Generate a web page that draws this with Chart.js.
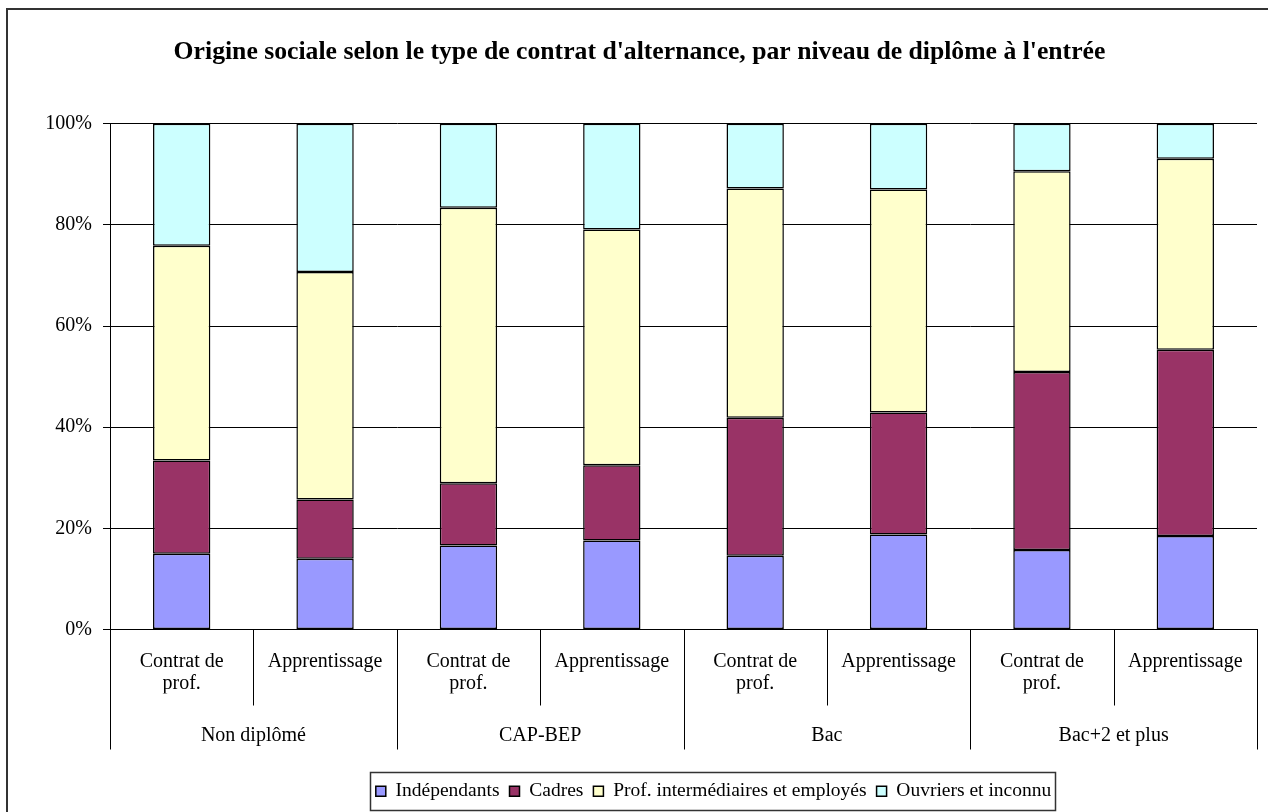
<!DOCTYPE html>
<html>
<head>
<meta charset="utf-8">
<script src="https://cdn.jsdelivr.net/npm/chart.js@4.4.0/dist/chart.umd.min.js"></script>
<style>
html,body{margin:0;padding:0;background:#fff;overflow:hidden}
canvas{display:block}
</style>
</head>
<body>
<canvas id="c" width="1268" height="812"></canvas>
<script>
const chartTitle = "Origine sociale selon le type de contrat d'alternance, par niveau de diplôme à l'entrée";
const groups = ["Non diplômé", "CAP-BEP", "Bac", "Bac+2 et plus"];
const contracts = [["Contrat de", "prof."], "Apprentissage"];
const yTicks = [0, 20, 40, 60, 80, 100];
const seriesNames = ["Indépendants", "Cadres", "Prof. intermédiaires et employés", "Ouvriers et inconnu"];
const independants = [15.0, 14.0, 16.6, 17.6, 14.6, 18.8, 15.7, 18.5];
const cadres       = [18.4, 11.7, 12.3, 14.9, 27.3, 24.1, 35.2, 36.8];
const profInter    = [42.5, 45.0, 54.5, 46.6, 45.3, 44.1, 39.7, 37.8];
const ouvriers     = [24.1, 29.3, 16.6, 20.9, 12.8, 13.0,  9.4,  6.9];
const seriesColors = ["#9999FF", "#993366", "#FFFFCC", "#CCFFFF"];

const categories = [];
groups.forEach(() => contracts.forEach(c => categories.push(c)));
const seriesValues = [independants, cadres, profInter, ouvriers];

const FONT = "'Liberation Serif', 'Times New Roman', serif";
const LEGEND_SHIFT = 74;

const deco = {
  id: 'deco',
  afterUpdate(chart) {
    const lg = chart.legend;
    if (lg) {
      lg.left += LEGEND_SHIFT;
      lg.right += LEGEND_SHIFT;
      if (typeof lg.adjustHitBoxes === 'function') lg.adjustHitBoxes();
    }
  },
  beforeDraw(chart) {
    const ctx = chart.ctx;
    ctx.save();
    ctx.fillStyle = '#fff';
    ctx.fillRect(0, 0, chart.width, chart.height);
    ctx.restore();
  },
  afterDraw(chart) {
    const ctx = chart.ctx;
    const xs = chart.scales.x;
    const bottom = chart.chartArea.bottom;
    ctx.save();
    ctx.strokeStyle = '#000';
    ctx.lineWidth = 1;
    for (let i = 0; i <= categories.length; i++) {
      const px = Math.round(xs.getPixelForValue(i - 0.5)) + 0.5;
      const len = (i % contracts.length === 0) ? 120 : 76;
      ctx.beginPath();
      ctx.moveTo(px, bottom);
      ctx.lineTo(px, bottom + len);
      ctx.stroke();
    }
    const lg = chart.legend;
    if (lg && lg.legendHitBoxes && lg.legendHitBoxes.length) {
      let l = Infinity, r = -Infinity;
      lg.legendHitBoxes.forEach(h => { l = Math.min(l, h.left); r = Math.max(r, h.left + h.width); });
      ctx.strokeStyle = '#333';
      ctx.lineWidth = 1.5;
      ctx.strokeRect(Math.round(l) - 5.5, Math.round(lg.top) + 0.5, Math.round(r - l) + 10, 38);
    }
    ctx.strokeStyle = '#333';
    ctx.lineWidth = 2;
    ctx.beginPath();
    ctx.moveTo(7, chart.height + 5);
    ctx.lineTo(7, 9);
    ctx.lineTo(chart.width + 5, 9);
    ctx.stroke();
    ctx.restore();
  }
};

new Chart(document.getElementById('c'), {
  type: 'bar',
  data: {
    labels: categories,
    datasets: seriesNames.map((name, i) => ({
      label: name,
      data: seriesValues[i],
      backgroundColor: seriesColors[i],
      borderColor: '#000',
      borderWidth: 1.5,
      borderSkipped: false,
      barPercentage: 0.4,
      categoryPercentage: 1.0
    }))
  },
  options: {
    responsive: false,
    animation: false,
    devicePixelRatio: 1,
    layout: { padding: { left: 22, right: 11, top: 0, bottom: 1 } },
    plugins: {
      title: {
        display: true,
        text: chartTitle,
        color: '#000',
        font: { family: FONT, size: 25.7, weight: 'bold', lineHeight: 1.2 },
        padding: { top: 37, bottom: 56 }
      },
      legend: {
        display: true,
        position: 'bottom',
        labels: {
          color: '#000',
          boxWidth: 10,
          boxHeight: 10,
          padding: 10,
          font: { family: FONT, size: 19.5 }
        }
      },
      tooltip: { enabled: false }
    },
    scales: {
      x: {
        stacked: true,
        offset: true,
        grid: { display: false, drawTicks: false },
        border: { display: true, color: '#000', width: 1 },
        ticks: {
          color: '#000',
          font: { family: FONT, size: 20, lineHeight: 1.1 },
          padding: 21,
          maxRotation: 0,
          autoSkip: false
        },
        afterFit(s) { s.height = 64; }
      },
      x2: {
        type: 'category',
        labels: groups,
        position: 'bottom',
        offset: true,
        weight: 1,
        grid: { display: false, drawTicks: false },
        border: { display: false },
        ticks: {
          color: '#000',
          font: { family: FONT, size: 20, lineHeight: 1.1 },
          padding: 31,
          maxRotation: 0,
          autoSkip: false
        },
        afterFit(s) { s.height = 78; }
      },
      y: {
        stacked: true,
        min: 0,
        max: 100,
        afterBuildTicks(s) { s.ticks = yTicks.map(v => ({ value: v })); },
        grid: { color: '#000', lineWidth: 1, tickLength: 7, drawTicks: true },
        border: { display: true, color: '#000', width: 1 },
        ticks: {
          color: '#000',
          font: { family: FONT, size: 20 },
          padding: 11,
          callback: v => v + '%'
        },
        afterFit(s) { s.width = 88; }
      }
    }
  },
  plugins: [deco]
});
</script>
</body>
</html>
